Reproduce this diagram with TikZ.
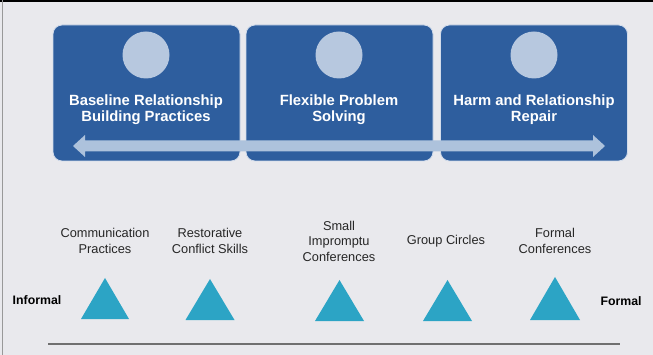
\documentclass[tikz,border=0pt]{standalone}
\usepackage{fontspec}
\setmainfont{Liberation Sans}
\usetikzlibrary{positioning}
\definecolor{bgc}{HTML}{E9E9ED}
\definecolor{boxblue}{HTML}{2E5E9E}
\definecolor{boxedge}{HTML}{D2DCEB}
\definecolor{disc}{HTML}{B7C8DF}
\definecolor{arrowc}{HTML}{ADC2DC}
\definecolor{tri}{HTML}{2CA4C5}
\definecolor{axis}{HTML}{707070}
\definecolor{ink}{HTML}{262626}
\tikzset{
  stage/.style={draw=boxedge, line width=0.8pt, fill=boxblue, rounded corners=9pt,
    minimum width=187pt, minimum height=136pt, inner sep=0pt},
  disc/.style={circle, fill=disc, minimum size=47pt, inner sep=0pt},
  stagetitle/.style={text=white, font=\bfseries\fontsize{14.8}{16}\selectfont, align=center},
  practice/.style={text=ink, font=\fontsize{12.8}{15.5}\selectfont, align=center},
  marker/.style={fill=tri},
  endlabel/.style={text=black, font=\bfseries\fontsize{12.3}{14}\selectfont},
}
\begin{document}
\begin{tikzpicture}[x=1pt,y=-1pt]
  \useasboundingbox (0,0) rectangle (653,355);
  \fill[bgc] (0,0) rectangle (653,355);
  % frame edges
  \draw[black, line width=2pt] (0,1) -- (653,1);
  \draw[gray!80, line width=1pt] (2.5,0) -- (2.5,355);

  % three stages
  \node[stage] (s1) at (146.5,93) {};
  \node[stage] (s2) at (339.5,93) {};
  \node[stage] (s3) at (534,93) {};
  \node[disc] (c1) at (146,55) {};
  \node[disc] (c2) at (339,55) {};
  \node[disc] (c3) at (534,55) {};
  \node[stagetitle] (t1) at (146,109.5) {Baseline Relationship\\Building Practices};
  \node[stagetitle] (t2) at (339,109.5) {Flexible Problem\\Solving};
  \node[stagetitle] (t3) at (534,109.5) {Harm and Relationship\\Repair};

  % double-headed continuum arrow
  \coordinate (aL) at (73,146);
  \coordinate (aR) at (605,146);
  \fill[arrowc] (aL) -- (85,135) -- (85,140.5) -- (593,140.5) -- (593,135) -- (aR)
    -- (593,157) -- (593,151.5) -- (85,151.5) -- (85,157) -- cycle;

  % practices along the scale
  \node[practice] (p1) at (105,241) {Communication\\Practices};
  \node[practice] (p2) at (210,241) {Restorative\\Conflict Skills};
  \node[practice] (p3) at (339,241) {Small\\Impromptu\\Conferences};
  \node[practice] (p4) at (446,241.5) {Group Circles};
  \node[practice] (p5) at (555,241) {Formal\\Conferences};

  \fill[marker] (105,278) -- (129,319) -- (81,319) -- cycle;
  \fill[marker] (210,279) -- (234.5,320) -- (185.5,320) -- cycle;
  \fill[marker] (339.5,280) -- (364,321) -- (315,321) -- cycle;
  \fill[marker] (447.5,280) -- (472,321) -- (423,321) -- cycle;
  \fill[marker] (555,277) -- (580,320) -- (530,320) -- cycle;

  \node[endlabel] (lo) at (37,300.5) {Informal};
  \node[endlabel] (hi) at (621,301.5) {Formal};

  % baseline
  \coordinate (b1) at (48,344);
  \coordinate (b2) at (620,344);
  \draw[axis, line width=1.6pt] (b1) -- (b2);
\end{tikzpicture}
\end{document}
